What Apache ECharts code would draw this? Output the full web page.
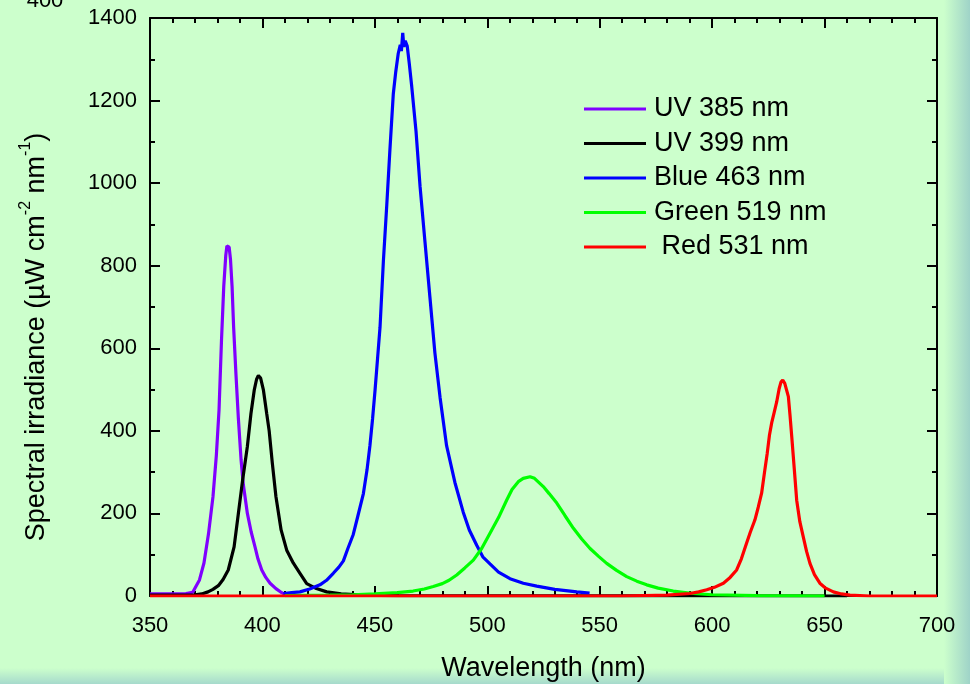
<!DOCTYPE html>
<html>
<head>
<meta charset="utf-8">
<script src="https://cdn.jsdelivr.net/npm/echarts@6/dist/echarts.min.js"></script>
<style>
  html, body { margin: 0; padding: 0; background: #ccffcc; }
  #chart { width: 970px; height: 684px; }
</style>
</head>
<body>
<div id="chart"></div>
<script>
// spectra: wavelength (nm) and irradiance (uW cm-2 nm-1)
const uv385Nm = [350, 360, 366, 369, 372, 374, 376, 378, 379.5, 380.7, 381.8, 382.8, 383.7, 384.2, 384.7, 385.2, 385.8, 386.5, 387.2, 388.2, 389.3, 390.5, 391.5, 393.3, 395, 396.7, 398, 399.7, 401.5, 403.4, 406, 408.6, 410];
const uv385Val = [5, 5, 6, 9, 39, 80, 150, 240, 340, 450, 620, 750, 825, 848, 852, 845, 815, 750, 650, 540, 430, 330, 270, 200, 155, 119, 90, 63, 45, 31, 18, 8, 4];

const uv399Nm = [350, 360, 370, 373, 375.8, 378, 380.4, 382.5, 384.8, 387.4, 389.3, 391.2, 393.3, 394.9, 396.4, 397.4, 398.2, 399.2, 400.4, 401.9, 403, 404.4, 406, 408.3, 410.8, 413.7, 416.7, 419.7, 424, 428.6, 435, 445, 460, 660];
const uv399Val = [2, 2, 3, 5, 10, 16, 25, 40, 63, 119, 200, 281, 362, 442, 500, 525, 534, 528, 500, 442, 400, 322, 241, 160, 111, 80, 55, 30, 18, 10, 5, 2, 1, 0];

const blueNm = [409.3, 413, 416.7, 421, 425.6, 428.5, 431.5, 434, 436, 438, 440.4, 442.5, 444.9, 446.5, 447.8, 449, 450.1, 451.2, 452.3, 453.8, 455.3, 456.7, 458.2, 459.3, 460.4, 461.3, 461.8, 462.4, 462.9, 463.5, 464.4, 465.3, 466.4, 468.3, 470.1, 472.3, 474.5, 476.7, 479, 481.9, 485.6, 489.3, 492, 495.3, 498, 501.2, 505, 510.1, 516, 522, 530, 539.8, 545.5];
const blueVal = [6, 8, 10, 17, 27, 38, 55, 70, 85, 115, 149, 195, 248, 305, 364, 430, 499, 575, 651, 812, 947, 1081, 1216, 1270, 1314, 1335, 1320, 1364, 1330, 1345, 1332, 1290, 1234, 1126, 992, 857, 723, 589, 481, 364, 275, 203, 160, 123, 95, 78, 58, 42, 31, 24, 16, 10, 7];

const greenNm = [410, 430, 440, 450, 460, 467, 472, 476, 480, 483, 486.4, 490, 493.8, 497.5, 501.2, 505, 508.6, 511, 513.8, 516, 519, 521, 524.9, 527.5, 530.9, 534.5, 538.3, 542, 545.7, 549.5, 553.1, 557.5, 562, 566.5, 570.9, 576, 582.7, 591.6, 600, 620, 650];
const greenVal = [1, 2, 3, 5, 8, 12, 17, 23, 30, 38, 51, 68, 87, 115, 152, 190, 232, 258, 277, 285, 289, 285, 265, 248, 225, 195, 164, 138, 115, 96, 79, 62, 47, 36, 27, 19, 12, 6, 3, 1, 0];

const redNm = [350, 560, 580, 590.1, 594, 597.6, 601, 605, 608, 610.9, 613, 615.3, 617, 619, 620.5, 622, 623.3, 624.5, 625.5, 626.5, 627.6, 628.7, 629.8, 630.6, 631.4, 632.3, 633.9, 634.6, 635.4, 636.5, 637.6, 639, 640.5, 642, 643.5, 645.5, 647.9, 650.5, 653.9, 657.5, 661.3, 670, 700];
const redVal = [0, 0, 2, 6, 10, 15, 21, 31, 45, 63, 90, 128, 155, 184, 215, 249, 300, 346, 390, 420, 445, 470, 502, 518, 523, 515, 483, 440, 386, 310, 232, 180, 144, 108, 79, 52, 31, 19, 10, 5, 2, 0, 0];

const seriesNames = ["UV 385 nm", "UV 399 nm", "Blue 463 nm", "Green 519 nm", " Red 531 nm"];
const seriesColors = ["#8000ff", "#000000", "#0000ff", "#00ff00", "#ff0000"];
const xTicks = { min: 350, max: 700, step: 50 };
const yTicks = { min: 0, max: 1400, step: 200 };

const spectra = [
  [uv385Nm, uv385Val],
  [uv399Nm, uv399Val],
  [blueNm, blueVal],
  [greenNm, greenVal],
  [redNm, redVal],
];

const font = "'Liberation Sans', Arial, sans-serif";

const chart = echarts.init(document.getElementById("chart"));

const axisBase = {
  type: "value",
  axisLine: { show: true, onZero: false, lineStyle: { color: "#000", width: 2 } },
  axisTick: { show: true, inside: true, length: 10, lineStyle: { color: "#000", width: 2 } },
  minorTick: { show: true, length: 5, lineStyle: { color: "#000", width: 2 } },
  splitLine: { show: false },
  minorSplitLine: { show: false },
};

const plainNumber = (v) => String(v);

const option = {
  backgroundColor: "#ccffcc",
  animation: false,
  grid: { left: 150, right: 33, top: 18, bottom: 88, outerBoundsMode: "none" },
  legend: {
    orient: "vertical",
    left: 579,
    top: 90,
    icon: "rect",
    itemWidth: 62,
    itemHeight: 3,
    itemGap: 6.5,
    data: seriesNames,
    textStyle: { fontFamily: font, fontSize: 27, lineHeight: 28, color: "#000", padding: [0, 0, 0, 3] },
  },
  xAxis: [
    {
      ...axisBase,
      position: "bottom",
      min: xTicks.min,
      max: xTicks.max,
      interval: xTicks.step,
      minorTick: { ...axisBase.minorTick, splitNumber: 5 },
      axisLabel: { fontFamily: font, fontSize: 22, color: "#000", margin: 19, formatter: plainNumber },
      name: "Wavelength (nm)",
      nameLocation: "middle",
      nameGap: 59,
      nameTextStyle: { fontFamily: font, fontSize: 27, color: "#000" },
    },
    {
      ...axisBase,
      position: "top",
      min: xTicks.min,
      max: xTicks.max,
      interval: xTicks.step,
      minorTick: { ...axisBase.minorTick, splitNumber: 5 },
      axisLabel: { show: false },
    },
  ],
  yAxis: [
    {
      ...axisBase,
      position: "left",
      min: yTicks.min,
      max: yTicks.max,
      interval: yTicks.step,
      minorTick: { ...axisBase.minorTick, splitNumber: 2 },
      axisLabel: { fontFamily: font, fontSize: 22, color: "#000", margin: 13, formatter: plainNumber },
    },
    {
      ...axisBase,
      position: "right",
      min: yTicks.min,
      max: yTicks.max,
      interval: yTicks.step,
      minorTick: { ...axisBase.minorTick, splitNumber: 2 },
      axisLabel: { show: false },
    },
  ],
  series: spectra.map(([nm, val], i) => ({
    name: seriesNames[i],
    type: "line",
    xAxisIndex: 0,
    yAxisIndex: 0,
    showSymbol: false,
    symbol: "none",
    color: seriesColors[i],
    lineStyle: { width: 3.2, color: seriesColors[i] },
    z: 2 + i,
    data: nm.map((x, k) => [x, val[k]]),
  })),
  graphic: [
    {
      type: "rect",
      z: -10,
      shape: { x: 944, y: 0, width: 26, height: 684 },
      style: {
        fill: new echarts.graphic.LinearGradient(0, 0, 1, 0, [
          { offset: 0, color: "#ccffcc" },
          { offset: 1, color: "#9fd3c8" },
        ]),
      },
    },
    {
      type: "rect",
      z: -11,
      shape: { x: 0, y: 668, width: 970, height: 16 },
      style: {
        fill: new echarts.graphic.LinearGradient(0, 0, 0, 1, [
          { offset: 0, color: "#ccffcc" },
          { offset: 1, color: "#a6dacc" },
        ]),
      },
    },
    {
      type: "text",
      x: 45,
      y: 12,
      style: {
        text: "400",
        fontFamily: font,
        fontSize: 22,
        fill: "#000",
        align: "center",
        verticalAlign: "bottom",
      },
    },
    {
      type: "text",
      x: 34,
      y: 337,
      rotation: Math.PI / 2,
      style: {
        text: "{n|Spectral irradiance (\u00b5W cm}{s|-2}{n| nm}{s|-1}{n|)}",
        fontFamily: font,
        fill: "#000",
        align: "center",
        verticalAlign: "middle",
        rich: {
          n: { fontFamily: font, fontSize: 27, lineHeight: 32, verticalAlign: "bottom", fill: "#000" },
          s: { fontFamily: font, fontSize: 16, lineHeight: 32, verticalAlign: "top", fill: "#000" },
        },
      },
    },
  ],
};

chart.setOption(option);
</script>
</body>
</html>
